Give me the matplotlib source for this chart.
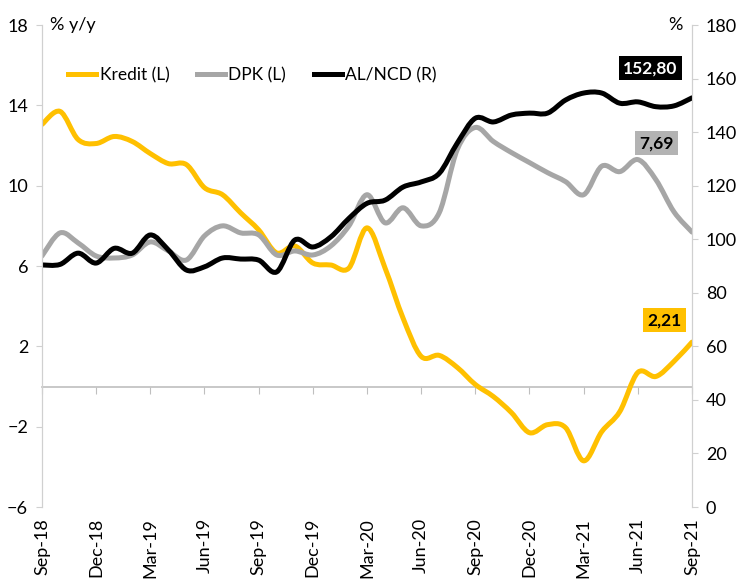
import numpy as np
import matplotlib
matplotlib.use("Agg")
import matplotlib.pyplot as plt
from matplotlib.path import Path
from matplotlib.patches import PathPatch
from matplotlib.lines import Line2D

plt.rcParams["font.family"] = ["Lato", "DejaVu Sans"]

# monthly, Sep-18 .. Sep-21
months = ["Sep-18", "Oct-18", "Nov-18", "Dec-18", "Jan-19", "Feb-19", "Mar-19",
          "Apr-19", "May-19", "Jun-19", "Jul-19", "Aug-19", "Sep-19", "Oct-19",
          "Nov-19", "Dec-19", "Jan-20", "Feb-20", "Mar-20", "Apr-20", "May-20",
          "Jun-20", "Jul-20", "Aug-20", "Sep-20", "Oct-20", "Nov-20", "Dec-20",
          "Jan-21", "Feb-21", "Mar-21", "Apr-21", "May-21", "Jun-21", "Jul-21",
          "Aug-21", "Sep-21"]

kredit = [13.05, 13.7, 12.3, 12.1, 12.45, 12.2, 11.6, 11.1, 11.05, 9.9, 9.55,
          8.65, 7.8, 6.65, 7.0, 6.15, 6.05, 5.9, 7.9, 5.9, 3.4, 1.5, 1.55,
          0.95, 0.1, -0.5, -1.3, -2.3, -1.9, -2.05, -3.7, -2.25, -1.25, 0.7,
          0.5, 1.25, 2.21]

dpk = [6.5, 7.65, 7.15, 6.5, 6.4, 6.55, 7.2, 6.75, 6.3, 7.5, 8.0, 7.65, 7.55,
       6.55, 6.75, 6.55, 7.0, 8.0, 9.55, 8.15, 8.9, 8.0, 8.65, 11.8, 12.9,
       12.2, 11.65, 11.15, 10.65, 10.2, 9.55, 10.97, 10.7, 11.3, 10.3, 8.7,
       7.69]

al_ncd = [90.4, 90.6, 94.8, 91.1, 96.6, 94.8, 101.6, 96.0, 88.5, 89.7, 93.0,
          92.6, 92.2, 87.8, 99.7, 97.1, 100.9, 107.8, 113.4, 114.6, 119.5,
          121.4, 124.6, 135.9, 145.2, 143.8, 146.4, 147.1, 147.1, 152.0, 154.6,
          154.6, 150.8, 151.3, 149.5, 149.8, 152.8]

tick_labels = months[::3]

YELLOW = "#FFC000"
GRAY = "#A6A6A6"
AXIS = "#D0D0D0"


def smooth_line(ax, xs, ys, color, lw=3.6):
    """Excel-style smoothed line: Bezier segments through every data point."""
    p = np.column_stack([xs, ys]).astype(float)
    ext = np.vstack([p[0], p, p[-1]])
    verts = [p[0]]
    codes = [Path.MOVETO]
    for i in range(len(p) - 1):
        p0, p1, p2, p3 = ext[i], ext[i + 1], ext[i + 2], ext[i + 3]
        verts += [p1 + (p2 - p0) / 6, p2 - (p3 - p1) / 6, p2]
        codes += [Path.CURVE4] * 3
    ax.add_patch(PathPatch(Path(verts, codes), fc="none", ec=color, lw=lw,
                           joinstyle="round", capstyle="round"))


x = np.arange(len(months))

fig = plt.figure(figsize=(7.39, 5.86), dpi=100)
ax = fig.add_axes([0.0568, 0.1348, 0.8796, 0.8225])
ax2 = ax.twinx()

smooth_line(ax, x, kredit, YELLOW)
smooth_line(ax, x, dpk, GRAY)
smooth_line(ax2, x, al_ncd, "black")

ax.set_xlim(0, len(months) - 1)
ax.set_ylim(-6, 18)
ax.set_yticks(np.arange(-6, 19, 4))
ax2.set_ylim(0, 180)
ax2.set_yticks(np.arange(0, 181, 20))

for a in (ax, ax2):
    for s in ("top", "bottom"):
        a.spines[s].set_visible(False)
    a.spines["left"].set_color(AXIS)
    a.spines["right"].set_color(AXIS)
ax.tick_params(axis="y", length=4, color=AXIS, labelsize=13, pad=6)
ax2.tick_params(axis="y", length=4, color=AXIS, labelsize=13, pad=6)

# x labels at the bottom, tick marks on the zero line
ax.set_xticks(x[::3])
ax.set_xticklabels(tick_labels, rotation=90, fontsize=13)
ax.tick_params(axis="x", length=0, pad=8)

zero = ax.secondary_xaxis(0.25)
zero.set_xticks(x[::3])
zero.set_xticklabels([])
zero.tick_params(axis="x", length=5, color="#BFBFBF", direction="out")
zero.spines["bottom"].set_color("#BFBFBF")
zero.spines["bottom"].set_linewidth(1.2)

ax.text(0.012, 1.0, "% y/y", transform=ax.transAxes, fontsize=13,
        ha="left", va="center")
ax.text(0.985, 1.0, "%", transform=ax.transAxes, fontsize=13,
        ha="right", va="center")

handles = [Line2D([], [], color=YELLOW, lw=3.6, label="Kredit (L)"),
           Line2D([], [], color=GRAY, lw=3.6, label="DPK (L)"),
           Line2D([], [], color="black", lw=3.6, label="AL/NCD (R)")]
ax2.legend(handles=handles, loc="center left", bbox_to_anchor=(0.03, 0.896),
           ncol=3, frameon=False, fontsize=12.5, handlelength=1.6,
           handletextpad=0.2, columnspacing=1.6, borderaxespad=0)

box = dict(boxstyle="square,pad=0.25", ec="none")
ax2.text(33.7, 163.9, "152,80", ha="center", va="center", fontsize=12.5,
         fontweight="bold", color="white", bbox={**box, "fc": "black"})
ax2.text(34.05, 135.9, "7,69", ha="center", va="center", fontsize=12.5,
         fontweight="bold", color="black", bbox={**box, "fc": "#B3B3B3"})
ax2.text(34.5, 69.8, "2,21", ha="center", va="center", fontsize=12.5,
         fontweight="bold", color="black", bbox={**box, "fc": YELLOW})

fig.savefig("out.png", dpi=100)
